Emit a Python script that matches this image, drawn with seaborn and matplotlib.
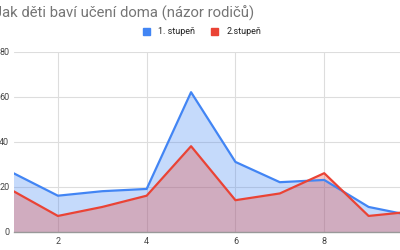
import matplotlib
matplotlib.use("Agg")
import matplotlib.pyplot as plt
import seaborn as sns
import pandas as pd
from matplotlib.patches import Patch

x_values = [1, 2, 3, 4, 5, 6, 7, 8, 9, 10]
stupen1 = [26, 16, 18, 19, 62, 31, 22, 23, 11, 7]
stupen2 = [18, 7, 11, 16, 38, 14, 17, 26, 7, 9]
series_names = ["1. stupeň", "2.stupeň"]
title = "Jak děti baví učení doma (názor rodičů)"
y_ticks = [0, 20, 40, 60, 80]
x_ticks = [2, 4, 6, 8]

sns.set_theme(style="white")
plt.rcParams['font.family'] = ['Roboto', 'DejaVu Sans']

df = pd.DataFrame({"x": x_values * 2,
                   "value": stupen1 + stupen2,
                   "series": [series_names[0]] * len(x_values) + [series_names[1]] * len(x_values)})

colors = {series_names[0]: "#4285F4", series_names[1]: "#EA4335"}

fig = plt.figure(figsize=(4, 2.5), dpi=100)
ax = fig.add_axes([13.5 / 400, (250 - 231.7) / 250, 399.5 / 400, 180 / 250])

ax.fill_between(x_values, stupen1, color=colors[series_names[0]], alpha=0.3, linewidth=0, zorder=2)
ax.fill_between(x_values, stupen2, color=colors[series_names[1]], alpha=0.3, linewidth=0, zorder=2)
sns.lineplot(data=df, x="x", y="value", hue="series", palette=colors, ax=ax,
             linewidth=1.6, legend=False, zorder=3)

ax.set_xlim(1, 10)
ax.set_ylim(0, 80)
ax.set_xticks(x_ticks)
ax.set_yticks(y_ticks)
ax.set_xlabel("")
ax.set_ylabel("")
ax.grid(True, color="#dddddd", linewidth=0.8, zorder=0)
ax.set_axisbelow(True)
for s in ["top", "right", "left"]:
    ax.spines[s].set_visible(False)
ax.spines["bottom"].set_color("#999999")
ax.spines["bottom"].set_linewidth(1.0)
ax.tick_params(axis="both", length=0, labelsize=6.5, labelcolor="#444444")
ax.tick_params(axis="x", pad=4)
ax.tick_params(axis="y", pad=3)

fig.text(-0.016, 0.945, title, fontsize=10.7, color="#757575", ha="left", va="center")

handles = [Patch(facecolor=colors[n], edgecolor=colors[n], label=n) for n in series_names]
fig.legend(handles=handles, loc="center", bbox_to_anchor=(0.505, 0.872), ncol=2, frameon=False,
           fontsize=6.5, handlelength=0.8, handleheight=0.8, handletextpad=0.9, columnspacing=1.7,
           labelcolor="#222222")

fig.savefig("out.png", dpi=100)
